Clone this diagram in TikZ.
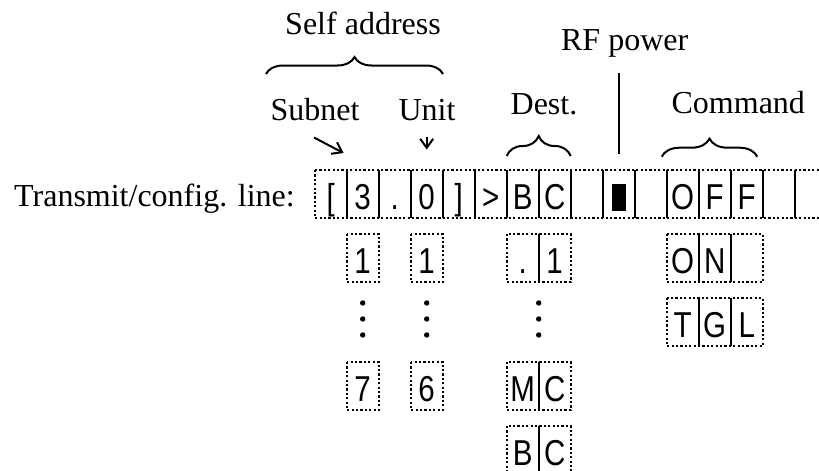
\documentclass[tikz,border=0pt]{standalone}
\usepackage{fontspec}
\setmainfont{Liberation Serif}
\newfontfamily\cellfont[FakeStretch=0.82]{Liberation Sans}
\usetikzlibrary{arrows.meta,decorations.pathreplacing}

\begin{document}
\begin{tikzpicture}[x=1pt,y=-1pt,
  lbl/.style={font=\fontsize{32}{38}\selectfont, inner sep=0pt, anchor=base},
  cell/.style={minimum width=32pt, minimum height=48pt, inner sep=0pt, outer sep=0pt,
               text height=30pt, text depth=0pt, font=\cellfont\fontsize{36}{40}\selectfont},
  dotbox/.style={line width=2.4pt, dash pattern=on 2.2pt off 2.2pt},
  sepline/.style={line width=2.2pt},
  bracedec/.style={line width=2pt, decorate, decoration={brace, amplitude=#1}},
  pointer/.style={line width=2pt, -{Straight Barb[length=9pt,width=13pt,line width=2pt]}}
]
\useasboundingbox (0,0) rectangle (819,471);

% ---- main transmit/config line ----
\node[lbl] (tline) at (154.5,206.7) {Transmit/config. line:};
\foreach \t [count=\i] in {{[},3,.,0,{]},>,B,C,{},{},{},O,F,F,{},{}}
  \node[cell] (m\i) at (298.7+32*\i,194) {\t};
\fill ([shift={(-7,-10)}]m10.center) rectangle ([shift={(7,17)}]m10.center);
\draw[dotbox] (m1.north west) rectangle (m16.south east);
\foreach \i in {1,...,15}
  \draw[sepline] (m\i.north east) -- (m\i.south east);

% ---- alternative values ----
\node[cell] (s1) at (362.7,258) {1};
\node[cell] (s7) at (362.7,386) {7};
\node[cell] (u1) at (426.7,258) {1};
\node[cell] (u6) at (426.7,386) {6};
\node[cell] (d1a) at (522.7,258) {.};
\node[cell] (d1b) at (554.7,258) {1};
\node[cell] (dMa) at (522.7,386) {M};
\node[cell] (dMb) at (554.7,386) {C};
\node[cell] (dBa) at (522.7,450) {B};
\node[cell] (dBb) at (554.7,450) {C};
\node[cell] (c1a) at (682.7,258) {O};
\node[cell] (c1b) at (714.7,258) {N};
\node[cell] (c1c) at (746.7,258) {};
\node[cell] (c2a) at (682.7,322) {T};
\node[cell] (c2b) at (714.7,322) {G};
\node[cell] (c2c) at (746.7,322) {L};

\foreach \a/\b in {s1/s1,s7/s7,u1/u1,u6/u6,d1a/d1b,dMa/dMb,dBa/dBb,c1a/c1c,c2a/c2c}
  \draw[dotbox] (\a.north west) rectangle (\b.south east);
\foreach \c in {d1a,dMa,dBa,c1a,c1b,c2a,c2b}
  \draw[sepline] (\c.north east) -- (\c.south east);

% vertical ellipses
\foreach \x in {362.7,426.7,538.7}
  \foreach \y in {303,319,335}
    \fill (\x,\y) circle (2.7pt);

% ---- labels, braces and pointers ----
\node[lbl] (self) at (363,34) {Self address};
\node[lbl] (rf) at (624.7,50.7) {RF power};
\node[lbl] (subnet) at (315,120) {Subnet};
\node[lbl] (unit) at (427,120) {Unit};
\node[lbl] (dest) at (544,114) {Dest.};
\node[lbl] (cmd) at (738.3,113.5) {Command};

\draw[bracedec=17pt] (266,74) -- (443,74);
\draw[bracedec=20pt] (506.7,156) -- (570.7,156);
\draw[bracedec=18pt] (661.7,156.7) -- (757.3,156.7);

\coordinate (rftop) at (618.7,73);
\coordinate (rfbot) at (618.7,154);
\draw[sepline] (rftop) -- (rfbot);

\coordinate (subA) at (314,137.5);
\coordinate (subB) at (343.5,153);
\draw[pointer] (subA) -- (subB);
\coordinate (unitA) at (426.7,136.5);
\coordinate (unitB) at (426.7,149.5);
\draw[pointer] (unitA) -- (unitB);
\end{tikzpicture}
\end{document}
